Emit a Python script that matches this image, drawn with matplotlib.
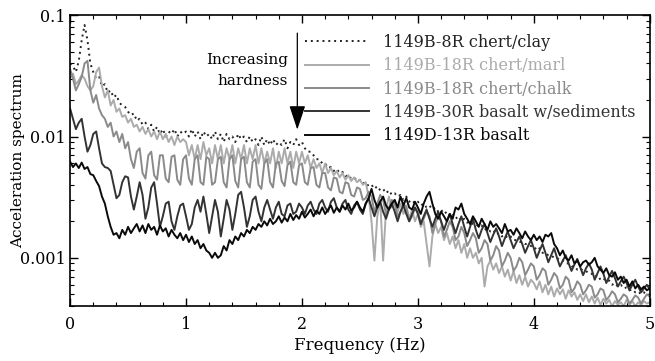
import numpy as np
import matplotlib
matplotlib.use("Agg")
import matplotlib.pyplot as plt
from matplotlib.ticker import FixedLocator, FixedFormatter, MultipleLocator, LogLocator, NullFormatter

plt.rcParams['font.family'] = ['DejaVu Serif']

# frequency bins (Hz), 0.025 Hz spacing
freq = np.linspace(0, 5, 201)

# spectra, in units of 1e-3
clay = [
    40, 38, 34, 42, 62, 83, 62, 40, 34, 30, 31, 26, 27, 23, 24, 21, 22, 19, 18, 17.5,
    16, 15, 15.5, 13.5, 14, 12.5, 13, 11.5, 12.5, 11, 12, 10.5, 11.5, 10, 11, 10.5, 11.5, 10, 11, 10.5,
    11, 10, 11.5, 10, 11, 9.5, 11, 10, 10.5, 9.5, 11, 9.5, 10.5, 9, 10.5, 9.5, 10, 9, 10.5, 9.5,
    10, 9, 10, 9, 9.5, 8.5, 10, 8.5, 9.5, 8.5, 9.5, 8.5, 9, 8.5, 9.5, 8, 9, 8.5, 9.5, 8.5,
    9, 8, 7.5, 7.5, 7, 6.5, 6.5, 6, 6, 5.5, 5.6, 5.2, 5.4, 5, 5.1, 4.7, 4.8, 4.5, 4.6, 4.3,
    4.4, 4.1, 4.2, 3.9, 4.0, 3.7, 3.9, 3.6, 3.7, 3.4, 3.6, 3.3, 3.4, 3.2, 3.3, 3.0, 3.2, 2.9, 3.0, 2.8,
    2.9, 2.7, 2.8, 2.6, 2.7, 2.5, 2.6, 2.4, 2.5, 2.3, 2.4, 2.2, 2.3, 2.1, 2.2, 2.0, 2.1, 1.95, 2.0, 1.9,
    1.9, 1.8, 1.85, 1.7, 1.75, 1.65, 1.7, 1.55, 1.6, 1.5, 1.55, 1.45, 1.5, 1.4, 1.4, 1.35, 1.35, 1.3, 1.3, 1.25,
    1.25, 1.15, 1.2, 1.1, 1.1, 1.05, 1.05, 1.0, 1.0, 0.95, 0.95, 0.9, 0.9, 0.85, 0.85, 0.8, 0.82, 0.78, 0.78, 0.74,
    0.74, 0.7, 0.72, 0.66, 0.68, 0.64, 0.65, 0.6, 0.62, 0.58, 0.6, 0.56, 0.57, 0.54, 0.55, 0.52, 0.53, 0.5, 0.52, 0.49,
    0.5,
]
marl = [
    30, 33, 27, 29, 32, 30, 26, 24, 26, 34, 37, 26, 21, 24, 18, 20, 16, 17, 14.5, 15,
    13, 14, 12, 12.5, 11, 12, 10.5, 11.5, 10, 11, 9.5, 11, 9.5, 10.5, 9, 10, 8.5, 10, 9, 9.5,
    9, 7, 8.5, 6.5, 8.5, 6.5, 9, 7, 8, 6, 8.5, 6.5, 8.5, 6, 8, 6.5, 8.5, 6, 8, 6.5,
    8.5, 6, 8, 6.5, 8.5, 6, 8, 6, 7.5, 6, 8, 5.5, 7.5, 6, 8, 6, 7.5, 5.5, 7.5, 6,
    7.5, 6, 7, 5.5, 6.5, 5.5, 6, 5, 6, 5, 5.5, 4.8, 5.2, 4.6, 5, 4.4, 4.8, 4.3, 4.6, 4.2,
    4.4, 4, 4.2, 3.2, 2.0, 0.95, 2.2, 3.0, 0.95, 2.5, 3.2, 2.6, 3.0, 2.4, 2.8, 2.3, 2.7, 2.1, 2.5, 2.0,
    2.3, 1.8, 2.0, 1.3, 0.85, 1.5, 1.9, 1.6, 1.8, 1.4, 1.6, 1.3, 1.5, 1.2, 1.4, 1.1, 1.3, 1.0, 1.2, 1.0,
    1.1, 0.9, 1.0, 0.58, 0.85, 0.95, 0.8, 0.9, 0.75, 0.85, 0.7, 0.8, 0.65, 0.78, 0.62, 0.72, 0.6, 0.7, 0.58, 0.66,
    0.62, 0.55, 0.64, 0.52, 0.6, 0.5, 0.58, 0.48, 0.56, 0.5, 0.55, 0.46, 0.54, 0.48, 0.52, 0.45, 0.5, 0.44, 0.5, 0.43,
    0.48, 0.42, 0.47, 0.41, 0.46, 0.42, 0.45, 0.4, 0.44, 0.41, 0.43, 0.4, 0.45, 0.41, 0.44, 0.4, 0.43, 0.41, 0.44, 0.42,
    0.43,
]
chalk = [
    36, 30, 24, 27, 31, 40, 42, 24, 19, 22, 17, 15, 14, 12, 13, 10, 11, 9, 10.5, 8,
    9, 6.5, 5.5, 7.5, 8, 5, 4.5, 7, 7.5, 4.8, 4.4, 7, 7, 4.5, 4.2, 6.8, 7, 4.4, 4.0, 6.5,
    7, 4.5, 4, 6.5, 7, 4.2, 4, 6.8, 6.5, 4, 4.2, 6.5, 6.8, 4.2, 3.8, 6.5, 7, 4.3, 3.8, 6.5,
    6.8, 4.2, 3.8, 6.2, 6.5, 4, 3.7, 6, 6.5, 4.2, 3.8, 6, 6.2, 4.3, 3.9, 5.8, 6.2, 4.2, 4, 5.8,
    6, 4.2, 4, 5.5, 5.6, 4, 3.8, 5, 5, 3.8, 3.6, 4.6, 4.5, 3.5, 3.4, 4.2, 4.1, 3.3, 3.2, 3.8,
    3.7, 3.0, 3.1, 3.5, 3.2, 2.4, 2.8, 3.3, 3.0, 2.3, 2.6, 3.0, 2.8, 2.2, 2.4, 2.8, 2.6, 2.0, 2.2, 2.6,
    2.4, 1.9, 2.1, 2.4, 2.2, 1.6, 1.9, 2.2, 2.0, 1.5, 1.7, 2.0, 1.8, 1.4, 1.5, 1.8, 1.6, 1.25, 1.4, 1.6,
    1.45, 1.1, 1.2, 1.4, 1.3, 0.95, 1.05, 1.25, 1.15, 0.85, 0.95, 1.1, 1.0, 0.78, 0.85, 1.0, 0.92, 0.72, 0.8, 0.9,
    0.85, 0.66, 0.72, 0.82, 0.78, 0.6, 0.66, 0.75, 0.7, 0.56, 0.6, 0.7, 0.66, 0.52, 0.56, 0.64, 0.6, 0.5, 0.54, 0.6,
    0.58, 0.47, 0.5, 0.56, 0.54, 0.45, 0.48, 0.53, 0.5, 0.43, 0.46, 0.5, 0.48, 0.42, 0.45, 0.49, 0.47, 0.42, 0.46, 0.5,
    0.48,
]
basalt_sed = [
    17, 14, 11.5, 13, 14, 10, 7.5, 8.5, 10.5, 11, 8, 6, 5.6, 5.5, 5.2, 4, 3.1, 3.3, 4.2, 4.7,
    4.6, 3.2, 2.5, 3.2, 4.2, 3.3, 2.1, 2.6, 3.8, 4.2, 2.8, 1.8, 2.2, 2.8, 2.9, 2.0, 1.7, 2.2, 2.7, 2.8,
    2.2, 1.7, 1.9, 2.6, 3.0, 2.4, 3.2, 2.3, 1.6, 2.2, 3.0, 2.4, 1.5, 2.1, 3.0, 2.5, 1.7, 2.3, 3.3, 3.5,
    2.6, 1.8, 2.2, 3.0, 3.2, 2.4, 2.0, 2.6, 3.0, 2.5, 2.1, 2.6, 2.9, 2.3, 2.2, 2.7, 2.8, 2.3, 2.4, 2.8,
    2.6, 2.3, 2.7, 2.9, 2.5, 2.3, 2.8, 3.0, 2.6, 2.4, 2.9, 3.1, 2.6, 2.4, 2.8, 3.0, 2.5, 2.3, 2.7, 2.9,
    2.5, 2.3, 2.8, 3.1, 2.6, 2.2, 2.6, 2.9, 2.4, 2.1, 2.5, 2.8, 2.4, 2.0, 2.4, 2.7, 2.3, 2.0, 2.3, 2.6,
    2.3, 1.9, 2.2, 2.5, 2.1, 1.8, 2.1, 2.4, 2.0, 1.7, 2.0, 2.3, 1.9, 1.6, 1.9, 2.2, 1.8, 1.5, 1.8, 2.1,
    1.7, 1.45, 1.7, 1.9, 1.6, 1.35, 1.55, 1.75, 1.5, 1.25, 1.45, 1.65, 1.4, 1.2, 1.35, 1.5, 1.3, 1.1, 1.25, 1.4,
    1.2, 1.0, 1.15, 1.3, 1.1, 0.92, 1.05, 1.2, 1.0, 0.85, 0.95, 1.05, 0.9, 0.78, 0.88, 0.98, 0.84, 0.72, 0.82, 0.9,
    0.8, 0.66, 0.75, 0.85, 0.74, 0.62, 0.7, 0.78, 0.68, 0.58, 0.64, 0.7, 0.62, 0.54, 0.6, 0.66, 0.58, 0.52, 0.56, 0.6,
    0.55,
]
basalt = [
    6.2, 5.6, 6.0, 5.5, 6.1, 5.4, 5.6, 4.9, 4.8, 4.3, 3.9, 3.2, 2.8, 2.2, 1.8, 1.55, 1.6, 1.45, 1.7, 1.55,
    1.8, 1.6, 1.75, 1.9, 1.65, 1.85, 1.6, 1.9, 1.7, 1.8, 1.55, 1.85, 1.65, 1.75, 1.5, 1.7, 1.55, 1.45, 1.6, 1.4,
    1.55, 1.35, 1.5, 1.3, 1.4, 1.2, 1.3, 1.15, 1.1, 1.0, 1.1, 1.0, 1.05, 1.25, 1.15, 1.4, 1.3, 1.5, 1.4, 1.6,
    1.5, 1.7, 1.6, 1.8, 1.7, 1.9, 1.8, 2.0, 1.85, 2.1, 1.9, 2.0, 2.2, 1.95, 2.15, 2.0, 2.3, 2.05, 2.25, 2.1,
    2.4, 2.15, 2.3, 2.5, 2.2, 2.45, 2.3, 2.6, 2.3, 2.5, 2.7, 2.35, 2.6, 2.4, 2.7, 2.5, 2.8, 2.45, 2.6, 2.9,
    2.6, 2.4, 2.8, 3.1, 3.7, 3.0, 2.6, 2.9, 3.2, 2.7, 2.5, 2.8, 3.0, 2.6, 3.2, 2.7, 3.1, 2.6, 2.5, 2.9,
    2.6, 2.3, 2.8, 3.2, 3.5, 2.8, 2.3, 2.1, 2.4, 2.2, 2.0, 2.3, 2.1, 2.6, 2.5, 2.8, 2.3, 2.1, 1.9, 2.2,
    2.0, 1.8, 2.1, 1.9, 1.7, 2.0, 1.8, 1.9, 1.75, 1.6, 1.9, 1.65, 1.7, 1.55, 1.75, 1.6, 1.45, 1.65, 1.5, 1.4,
    1.55, 1.4, 1.5, 1.35, 1.55, 1.5, 1.6, 1.3, 1.2, 1.05, 1.15, 1.0, 0.95, 1.05, 0.9, 0.95, 0.85, 0.92, 0.95, 0.88,
    0.92, 1.0, 0.85, 0.8, 0.75, 0.82, 0.72, 0.7, 0.76, 0.66, 0.7, 0.62, 0.66, 0.58, 0.64, 0.56, 0.6, 0.55, 0.58, 0.54,
    0.56,
]

labels = ["1149B-8R chert/clay", "1149B-18R chert/marl", "1149B-18R chert/chalk",
          "1149B-30R basalt w/sediments", "1149D-13R basalt"]
colors = ["#222222", "#ababab", "#8a8a8a", "#333333", "#0a0a0a"]
styles = [(0, (1, 2)), "-", "-", "-", "-"]

fig = plt.figure(figsize=(6.55, 3.61), dpi=100)
ax = fig.add_axes([0.107, 0.152, 0.885, 0.806])

for ys, lab, c, ls in zip([clay, marl, chalk, basalt_sed, basalt], labels, colors, styles):
    ax.plot(freq, np.array(ys) * 1e-3, color=c, ls=ls, lw=1.4, label=lab)

ax.set_yscale("log")
ax.set_xlim(0, 5)
ax.set_ylim(4e-4, 0.1)
ax.yaxis.set_major_locator(FixedLocator([0.001, 0.01, 0.1]))
ax.yaxis.set_major_formatter(FixedFormatter(["0.001", "0.01", "0.1"]))
ax.yaxis.set_minor_locator(LogLocator(base=10, subs=np.arange(2, 10)))
ax.yaxis.set_minor_formatter(NullFormatter())
ax.xaxis.set_major_locator(MultipleLocator(1))
ax.xaxis.set_minor_locator(MultipleLocator(0.2))
ax.tick_params(which="both", direction="in", top=True, right=True, labelsize=11.5)
ax.tick_params(which="major", length=6, width=1)
ax.tick_params(axis="x", which="major", pad=7)
ax.tick_params(axis="y", which="major", pad=3)
ax.tick_params(which="minor", length=3, width=0.8)
for s in ax.spines.values():
    s.set_linewidth(1.2)

ax.set_xlabel("Frequency (Hz)", fontsize=12, labelpad=3)
ax.set_ylabel("Acceleration spectrum", fontsize=11)
ax.yaxis.set_label_coords(-0.078, 0.5)

leg = ax.legend(loc="upper right", bbox_to_anchor=(1.0, 0.985), frameon=False, fontsize=11.5,
                handlelength=4.0, handletextpad=0.9, labelspacing=0.4, labelcolor="linecolor")

ax.annotate("", xy=(1.96, 0.0108), xytext=(1.96, 0.075),
            arrowprops=dict(arrowstyle="-|>,head_length=1.5,head_width=0.5", color="black", lw=0.9))
ax.text(1.88, 0.035, "Increasing\nhardness", ha="right", va="center", fontsize=11, linespacing=1.7)

fig.savefig("out.png", dpi=100)
